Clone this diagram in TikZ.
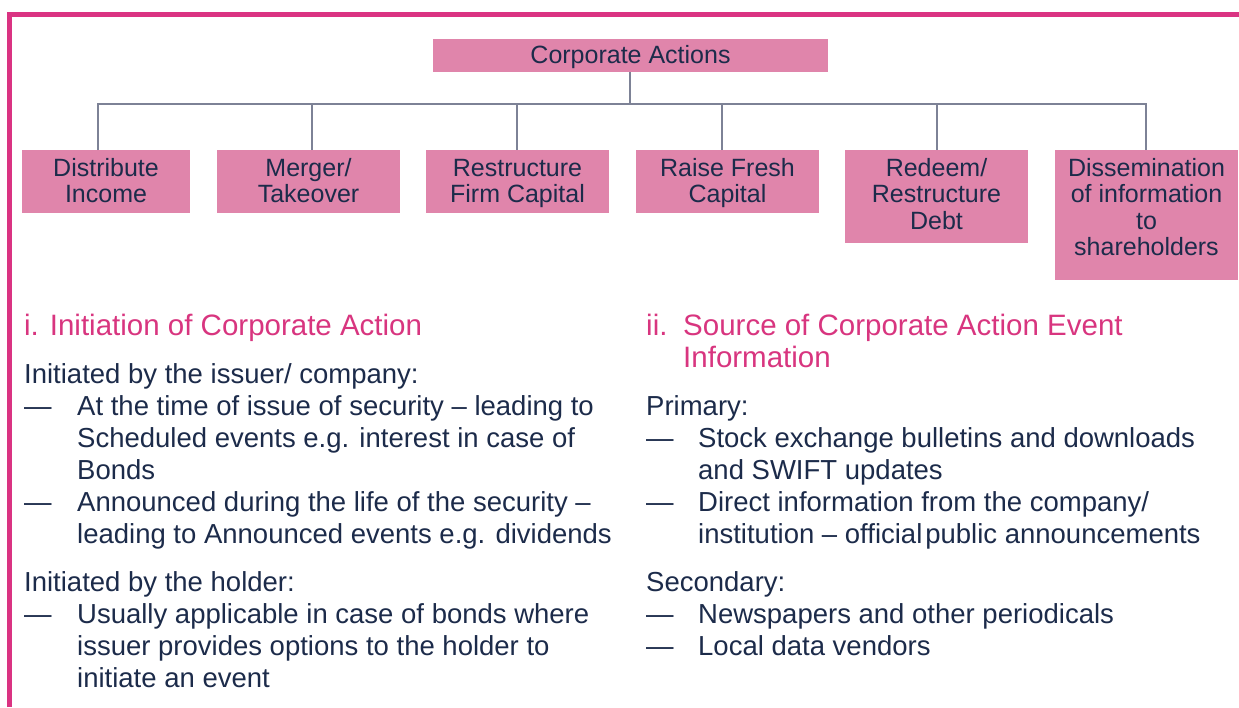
\documentclass[tikz,border=0pt]{standalone}
\usepackage{fontspec}
\setmainfont{Liberation Sans}
\usepackage{array}
\definecolor{framec}{HTML}{DA3382}
\definecolor{boxpink}{HTML}{E085AB}
\definecolor{ink}{HTML}{1C2B4A}
\definecolor{connc}{HTML}{7D8296}
\definecolor{headc}{HTML}{D8357F}
\newcommand{\boxtext}[3]{\parbox[c][#2pt][t]{#1pt}{\centering\fontsize{25}{26.5}\selectfont\rule{0pt}{26pt}#3}}
\tikzset{
  boxnode/.style={fill=boxpink, inner sep=0pt, anchor=north, text=ink},
  conn/.style={draw=connc, line width=1.4pt},
  framestyle/.style={draw=framec, line width=5pt, line join=miter},
  headtext/.style={anchor=base west, inner sep=0pt, text=headc, font=\fontsize{29.5}{32}\selectfont},
  bodytext/.style={anchor=base west, inner sep=0pt, text=ink, font=\fontsize{27.5}{32}\selectfont},
}
\begin{document}
\begin{tikzpicture}[x=1pt,y=-1pt]
\useasboundingbox (0,0) rectangle (1239,707);
% frame
\draw[framestyle] (9.5,707) -- (9.5,14.5) -- (1239,14.5);
% top node
\node[boxnode] (top) at (630.5,39) {\parbox[c][33pt][t]{395pt}{\centering\fontsize{25}{26}\selectfont\rule{0pt}{24pt}Corporate Actions}};
% child boxes
\node[boxnode] (b1) at (106,150) {\boxtext{168}{63}{Distribute\\Income}};
\node[boxnode] (b2) at (308.5,150) {\boxtext{183}{63}{Merger/\\Takeover}};
\node[boxnode] (b3) at (517.5,150) {\boxtext{183}{63}{Restructure\\Firm Capital}};
\node[boxnode] (b4) at (727.5,150) {\boxtext{183}{63}{Raise Fresh\\Capital}};
\node[boxnode] (b5) at (936.5,150) {\boxtext{183}{93}{Redeem/\\Restructure\\Debt}};
\node[boxnode] (b6) at (1146.5,150) {\boxtext{183}{130}{Dissemination\\of information\\to\\shareholders}};
% connectors
\coordinate (hub) at (630,104);
\coordinate (j1) at (98,104);
\coordinate (j2) at (312,104);
\coordinate (j3) at (517,104);
\coordinate (j4) at (722,104);
\coordinate (j5) at (937,104);
\coordinate (j6) at (1146,104);
\draw[conn] (top.south -| hub) -- (hub);
\draw[conn] (j1 |- b1.north) -- (j1) -- (j6) -- (j6 |- b6.north);
\draw[conn] (j2) -- (j2 |- b2.north);
\draw[conn] (j3) -- (j3 |- b3.north);
\draw[conn] (j4) -- (j4 |- b4.north);
\draw[conn] (j5) -- (j5 |- b5.north);
% left column
\node[headtext] (lh) at (24,335) {i. Initiation of Corporate Action};
\node[bodytext] (lb) at (24,383) {\begin{tabular}[t]{@{}p{53pt}@{}l@{}}
\multicolumn{2}{@{}l@{}}{Initiated by the issuer/ company:}\\
— & At the time of issue of security – leading to\\
 & Scheduled events e.g. interest in case of\\
 & Bonds\\
— & Announced during the life of the security –\\
 & leading to Announced events e.g. dividends\\[16pt]
\multicolumn{2}{@{}l@{}}{Initiated by the holder:}\\
— & Usually applicable in case of bonds where\\
 & issuer provides options to the holder to\\
 & initiate an event
\end{tabular}};
% right column
\node[headtext] (rh) at (646,335) {\begin{tabular}[t]{@{}p{37pt}@{}l@{}}
ii. & Source of Corporate Action Event\\
 & Information
\end{tabular}};
\node[bodytext] (rb) at (646,415) {\begin{tabular}[t]{@{}p{52pt}@{}l@{}}
\multicolumn{2}{@{}l@{}}{Primary:}\\
— & Stock exchange bulletins and downloads\\
 & and SWIFT updates\\
— & Direct information from the company/\\
 & institution – official\hspace{3pt}public announcements\\[16pt]
\multicolumn{2}{@{}l@{}}{Secondary:}\\
— & Newspapers and other periodicals\\
— & Local data vendors
\end{tabular}};
\end{tikzpicture}
\end{document}
